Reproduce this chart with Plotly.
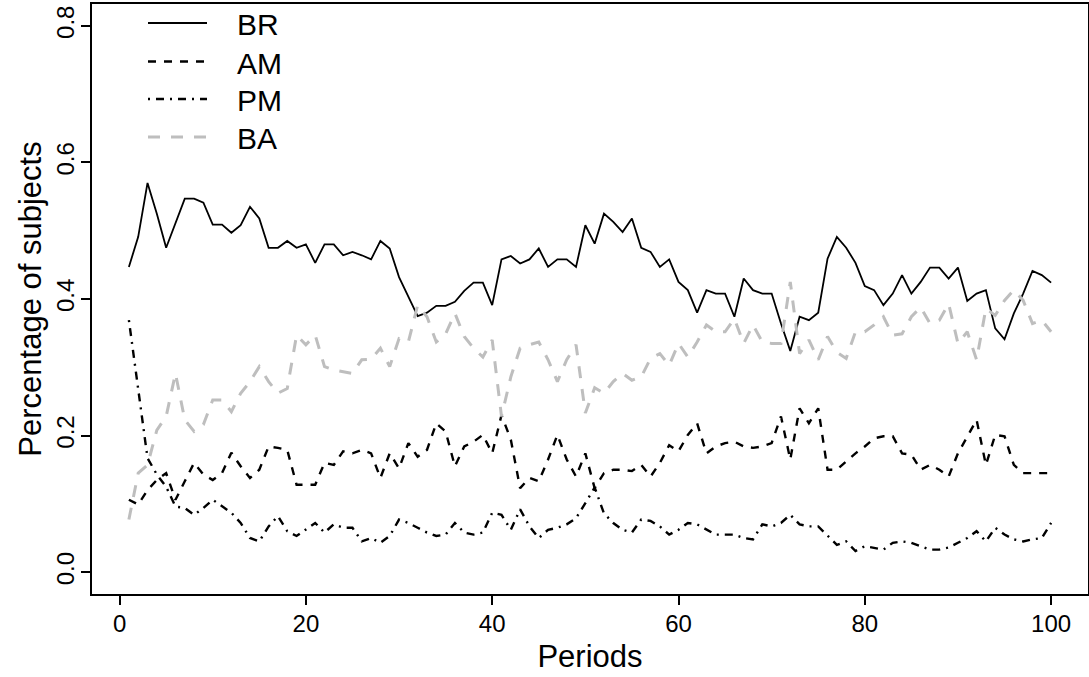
import plotly.graph_objects as go

periods = list(range(1, 101))

br = [0.447, 0.491, 0.570, 0.525, 0.475, 0.510, 0.547, 0.547, 0.541, 0.509,
      0.509, 0.497, 0.508, 0.535, 0.518, 0.475, 0.475, 0.485, 0.475, 0.480,
      0.453, 0.480, 0.480, 0.464, 0.469, 0.464, 0.458, 0.485, 0.474, 0.432,
      0.403, 0.375, 0.380, 0.390, 0.390, 0.396, 0.412, 0.424, 0.424, 0.391,
      0.458, 0.463, 0.452, 0.458, 0.474, 0.447, 0.458, 0.458, 0.447, 0.508,
      0.481, 0.525, 0.513, 0.498, 0.518, 0.475, 0.469, 0.447, 0.458, 0.425,
      0.413, 0.380, 0.413, 0.408, 0.408, 0.374, 0.430, 0.413, 0.408, 0.408,
      0.364, 0.324, 0.374, 0.369, 0.380, 0.459, 0.491, 0.475, 0.453, 0.419,
      0.413, 0.391, 0.408, 0.435, 0.408, 0.425, 0.446, 0.446, 0.430, 0.446,
      0.397, 0.408, 0.413, 0.357, 0.341, 0.379, 0.408, 0.441, 0.435, 0.424]

am = [0.106, 0.099, 0.120, 0.135, 0.145, 0.106, 0.133, 0.160, 0.143, 0.135,
      0.145, 0.175, 0.155, 0.138, 0.150, 0.184, 0.182, 0.179, 0.128, 0.128,
      0.128, 0.160, 0.157, 0.177, 0.174, 0.179, 0.174, 0.138, 0.174, 0.152,
      0.189, 0.169, 0.179, 0.218, 0.206, 0.155, 0.184, 0.191, 0.201, 0.174,
      0.230, 0.194, 0.123, 0.138, 0.133, 0.165, 0.201, 0.165, 0.140, 0.174,
      0.123, 0.145, 0.150, 0.150, 0.148, 0.157, 0.140, 0.160, 0.186, 0.177,
      0.201, 0.218, 0.174, 0.184, 0.189, 0.191, 0.184, 0.182, 0.184, 0.189,
      0.228, 0.165, 0.240, 0.218, 0.240, 0.150, 0.150, 0.162, 0.174, 0.184,
      0.196, 0.199, 0.199, 0.174, 0.172, 0.150, 0.157, 0.150, 0.140, 0.174,
      0.199, 0.223, 0.157, 0.201, 0.199, 0.157, 0.145, 0.145, 0.145, 0.145]

pm = [0.369, 0.265, 0.167, 0.143, 0.125, 0.096, 0.094, 0.084, 0.094, 0.106,
      0.096, 0.087, 0.072, 0.050, 0.045, 0.067, 0.082, 0.060, 0.053, 0.062,
      0.072, 0.058, 0.070, 0.065, 0.065, 0.045, 0.050, 0.043, 0.053, 0.077,
      0.072, 0.065, 0.058, 0.053, 0.055, 0.072, 0.058, 0.055, 0.058, 0.087,
      0.084, 0.062, 0.092, 0.067, 0.050, 0.062, 0.065, 0.070, 0.079, 0.101,
      0.124, 0.086, 0.072, 0.062, 0.058, 0.077, 0.075, 0.067, 0.055, 0.062,
      0.072, 0.070, 0.062, 0.055, 0.055, 0.055, 0.050, 0.048, 0.070, 0.067,
      0.072, 0.084, 0.070, 0.067, 0.067, 0.053, 0.040, 0.045, 0.031, 0.038,
      0.036, 0.033, 0.043, 0.045, 0.043, 0.038, 0.033, 0.033, 0.036, 0.043,
      0.050, 0.060, 0.045, 0.065, 0.055, 0.048, 0.045, 0.048, 0.050, 0.072]

ba = [0.077, 0.145, 0.157, 0.208, 0.228, 0.291, 0.223, 0.206, 0.216, 0.252,
      0.252, 0.235, 0.262, 0.279, 0.301, 0.279, 0.262, 0.269, 0.347, 0.333,
      0.347, 0.301, 0.296, 0.294, 0.291, 0.311, 0.312, 0.328, 0.301, 0.342,
      0.337, 0.391, 0.374, 0.337, 0.349, 0.379, 0.345, 0.328, 0.315, 0.340,
      0.228, 0.286, 0.328, 0.333, 0.337, 0.311, 0.279, 0.311, 0.333, 0.233,
      0.270, 0.262, 0.279, 0.291, 0.281, 0.286, 0.313, 0.320, 0.303, 0.335,
      0.315, 0.337, 0.362, 0.352, 0.352, 0.371, 0.335, 0.362, 0.337, 0.335,
      0.335, 0.425, 0.320, 0.340, 0.311, 0.345, 0.322, 0.313, 0.352, 0.352,
      0.362, 0.374, 0.347, 0.349, 0.374, 0.388, 0.364, 0.369, 0.393, 0.335,
      0.352, 0.311, 0.386, 0.376, 0.398, 0.413, 0.398, 0.364, 0.369, 0.352]

series_names = ["BR", "AM", "PM", "BA"]
series_values = [br, am, pm, ba]
series_colors = ["#000000", "#000000", "#000000", "#BEBEBE"]
series_dash = ["solid", "8px,8px", "2px,6px,8px,6px", "12px,11px"]
series_width = [1.8, 2.4, 2.4, 3]

x_ticks = [0, 20, 40, 60, 80, 100]
y_ticks = [0.0, 0.2, 0.4, 0.6, 0.8]
y_tick_text = ["0.0", "0.2", "0.4", "0.6", "0.8"]

FONT = "Liberation Sans, Arial, Helvetica, sans-serif"

fig = go.Figure()
for name, vals, col, dash, w in zip(series_names, series_values, series_colors,
                                    series_dash, series_width):
    fig.add_trace(go.Scatter(x=periods, y=vals, mode="lines", name=name,
                             line=dict(color=col, dash=dash, width=w),
                             showlegend=False))

# manual legend (R style) in paper coordinates
L, R, T, B = 92.0, 1088.0, 4.0, 594.0
def px(xp):
    return (xp - L) / (R - L)
def py(yp):
    return (B - yp) / (B - T)

legend_rows_px = [23, 61.5, 99, 137]
for name, col, dash, w, yr in zip(series_names, series_colors, series_dash,
                                  series_width, legend_rows_px):
    fig.add_shape(type="line", xref="paper", yref="paper",
                  x0=px(148), x1=px(207), y0=py(yr), y1=py(yr),
                  line=dict(color=col, dash=dash, width=w))
    fig.add_annotation(xref="paper", yref="paper", x=px(236), y=py(yr + 2),
                       text=name, showarrow=False, xanchor="left",
                       yanchor="middle", borderpad=0,
                       font=dict(family=FONT, size=30, color="#000000"))

fig.update_layout(
    width=1089, height=677,
    margin=dict(l=92, r=1, t=4, b=83),
    paper_bgcolor="white", plot_bgcolor="white",
    font=dict(family=FONT, color="#000000"),
)
fig.update_xaxes(range=[-2.96, 103.96], tickvals=x_ticks,
                 ticktext=[str(v) for v in x_ticks], automargin=False,
                 ticks="outside", ticklen=9, tickwidth=1.5, tickcolor="black",
                 ticklabelstandoff=-2,
                 showline=True, linecolor="black", linewidth=2, mirror=True,
                 showgrid=False, zeroline=False,
                 tickfont=dict(family=FONT, size=24),
                 title=dict(text="Periods", font=dict(family=FONT, size=31),
                            standoff=10))
fig.update_yaxes(range=[-0.032, 0.832], tickvals=y_ticks, ticktext=y_tick_text,
                 tickangle=-90, automargin=False,
                 ticks="outside", ticklen=9, tickwidth=1.5, tickcolor="black",
                 ticklabelstandoff=-3,
                 showline=True, linecolor="black", linewidth=2, mirror=True,
                 showgrid=False, zeroline=False,
                 tickfont=dict(family=FONT, size=24),
                 title=dict(text="Percentage of subjects",
                            font=dict(family=FONT, size=31), standoff=2))

fig.write_html("out.html", config={"displayModeBar": False},
               post_script="document.body.style.margin='0';"
                           "document.body.style.overflow='hidden';")
